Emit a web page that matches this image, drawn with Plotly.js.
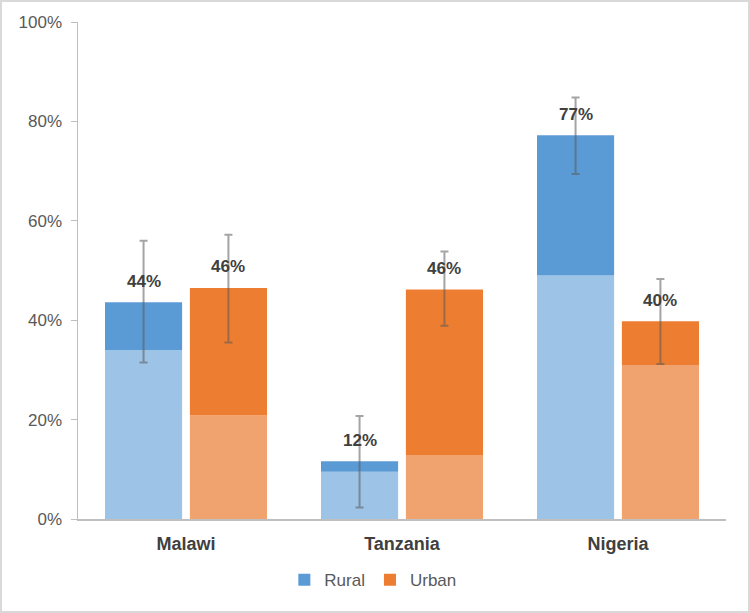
<!DOCTYPE html>
<html>
<head>
<meta charset="utf-8">
<script src="https://cdn.plot.ly/plotly-3.0.1.min.js"></script>
<style>
  body { margin: 0; background: #fff; }
  #wrap { position: relative; width: 750px; height: 613px; }
  #chart { width: 750px; height: 613px; }
  #frame { position: absolute; left: 0; top: 0; width: 750px; height: 613px;
           box-sizing: border-box; border: 2px solid #d9d9d9; pointer-events: none; }
</style>
</head>
<body>
<div id="wrap">
  <div id="chart"></div>
  <div id="frame"></div>
</div>
<script>
// countries on the x axis
var countries = ['Malawi', 'Tanzania', 'Nigeria']

// total bar height (%) and the lighter lower part (%)
var ruralTotal = [43.6, 11.6, 77.2]
var ruralLower = [34.0, 9.5, 49.0]
var urbanTotal = [46.5, 46.2, 39.8]
var urbanLower = [20.8, 12.9, 31.0]

// error bar ends (%)
var ruralErrHigh = [56.0, 20.7, 84.8]
var ruralErrLow  = [31.5, 2.3, 69.4]
var urbanErrHigh = [57.2, 53.8, 48.3]
var urbanErrLow  = [35.5, 38.9, 31.2]

// labels over the bars
var ruralLabels = ['44%', '12%', '77%']
var urbanLabels = ['46%', '46%', '40%']

var blue = '#5b9bd5', lightBlue = '#9dc3e6'
var orange = '#ed7d31', lightOrange = '#f1a36f'
var errColor = 'rgba(90,90,90,0.55)'
var W = 0.357
var FONT = 'Liberation Sans, Arial, sans-serif'

function upper(total, lower) {
  return total.map(function (t, i) { return t - lower[i] })
}
function diff(a, b) {
  return a.map(function (v, i) { return v - b[i] })
}

var traces = [
  { // rural, lower part
    type: 'bar', x: countries, y: ruralLower, width: W, offset: -0.375,
    marker: { color: lightBlue }, showlegend: false, hoverinfo: 'skip'
  },
  { // rural, upper part
    type: 'bar', name: 'Rural', x: countries, y: upper(ruralTotal, ruralLower), base: ruralLower,
    width: W, offset: -0.375, marker: { color: blue },
    error_y: { type: 'data', symmetric: false, array: diff(ruralErrHigh, ruralTotal),
               arrayminus: diff(ruralTotal, ruralErrLow), color: errColor, thickness: 2, width: 4 }
  },
  { // urban, lower part
    type: 'bar', x: countries, y: urbanLower, width: W, offset: 0.018,
    marker: { color: lightOrange }, showlegend: false, hoverinfo: 'skip'
  },
  { // urban, upper part
    type: 'bar', name: 'Urban', x: countries, y: upper(urbanTotal, urbanLower), base: urbanLower,
    width: W, offset: 0.018, marker: { color: orange },
    error_y: { type: 'data', symmetric: false, array: diff(urbanErrHigh, urbanTotal),
               arrayminus: diff(urbanTotal, urbanErrLow), color: errColor, thickness: 2, width: 4 }
  }
]

var annotations = []
countries.forEach(function (c, i) {
  annotations.push({ x: c, y: ruralTotal[i], text: '<b>' + ruralLabels[i] + '</b>', showarrow: false,
    xshift: -42, yshift: 21, font: { size: 17, color: '#404040', family: FONT } })
  annotations.push({ x: c, y: urbanTotal[i], text: '<b>' + urbanLabels[i] + '</b>', showarrow: false,
    xshift: 42, yshift: 21, font: { size: 17, color: '#404040', family: FONT } })
})

var layout = {
  width: 750, height: 613,
  margin: { l: 78, r: 24, t: 22, b: 94 },
  barmode: 'overlay',
  paper_bgcolor: '#fff', plot_bgcolor: '#fff',
  font: { family: FONT, size: 17, color: '#595959' },
  xaxis: {
    type: 'category', range: [-0.5, 2.5], showline: true, linecolor: '#bfbfbf', linewidth: 1.5,
    ticks: '', tickfont: { size: 18, color: '#404040' }, ticklabelstandoff: 8,
    tickvals: countries, ticktext: countries.map(function (c) { return '<b>' + c + '</b>' })
  },
  yaxis: {
    range: [0, 100], dtick: 20, ticksuffix: '%', showgrid: false, zeroline: false,
    showline: true, linecolor: '#bfbfbf', linewidth: 1.5, ticks: 'outside', ticklen: 6,
    tickcolor: '#bfbfbf', tickfont: { size: 17, color: '#595959' }, ticklabelstandoff: 5
  },
  legend: {
    orientation: 'h', x: 0.455, xanchor: 'center', y: -0.123, yanchor: 'middle',
    font: { size: 17, color: '#595959' }, itemwidth: 30
  },
  annotations: annotations
}

Plotly.newPlot('chart', traces, layout, { displayModeBar: false, staticPlot: true })
</script>
</body>
</html>
